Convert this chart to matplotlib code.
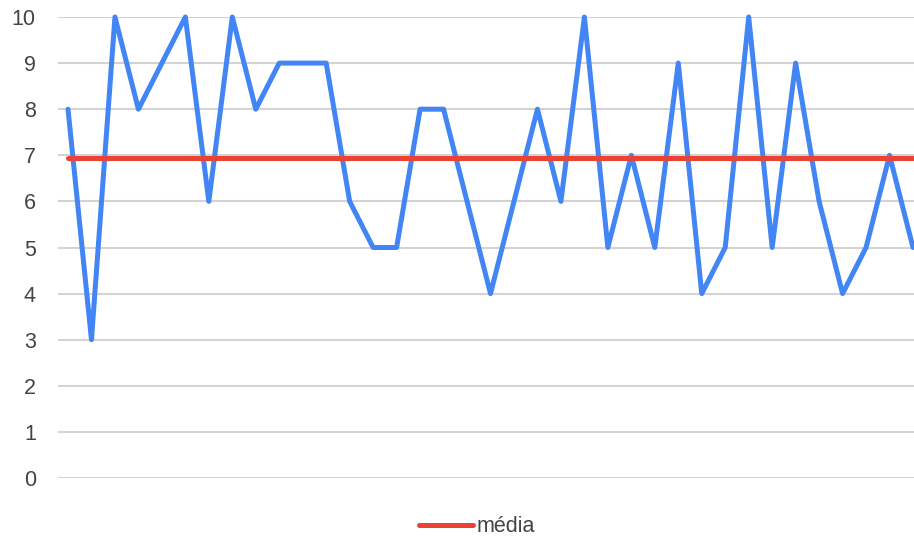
import matplotlib.pyplot as plt
import numpy as np

# Notas (serie azul) e média
notas = [8, 3, 10, 8, 9, 10, 6, 10, 8, 9, 9, 9, 6, 5, 5, 8, 8, 6, 4, 6, 8, 6,
         10, 5, 7, 5, 9, 4, 5, 10, 5, 9, 6, 4, 5, 7, 5]
media = np.mean(notas)
y_ticks = list(range(0, 11))

x = np.arange(len(notas))

plt.rcParams['font.family'] = ['Liberation Sans', 'DejaVu Sans']

fig = plt.figure(figsize=(9.14, 5.39), dpi=100)
ax = fig.add_axes([58 / 914, 1 - 478 / 539, 856 / 914, 461 / 539])

ax.plot(x, notas, color='#4285F4', lw=3.6, solid_joinstyle='round',
        solid_capstyle='round', clip_on=False, zorder=3, label='_nolegend_')
ax.plot([x[0], x[-1]], [media, media], color='#EA4335', lw=3.6,
        solid_capstyle='round', clip_on=False, zorder=4, label='média')

ax.set_ylim(0, 10)
ax.set_xlim(-10 / 23.47, x[-1] + 1 / 23.47)
ax.set_yticks(y_ticks)
ax.set_xticks([])
ax.grid(axis='y', color='#d3d3d3', lw=1.5)
ax.set_axisbelow(True)
for s in ax.spines.values():
    s.set_visible(False)
ax.tick_params(axis='y', length=0, pad=16, labelsize=15.5, labelcolor='#444444')

fig.legend(loc='center', bbox_to_anchor=(0.522, 1 - 527 / 539), frameon=False,
           fontsize=15.5, handlelength=2.5, handletextpad=0.15, labelcolor='#444444')

plt.savefig('out.png', dpi=100)
